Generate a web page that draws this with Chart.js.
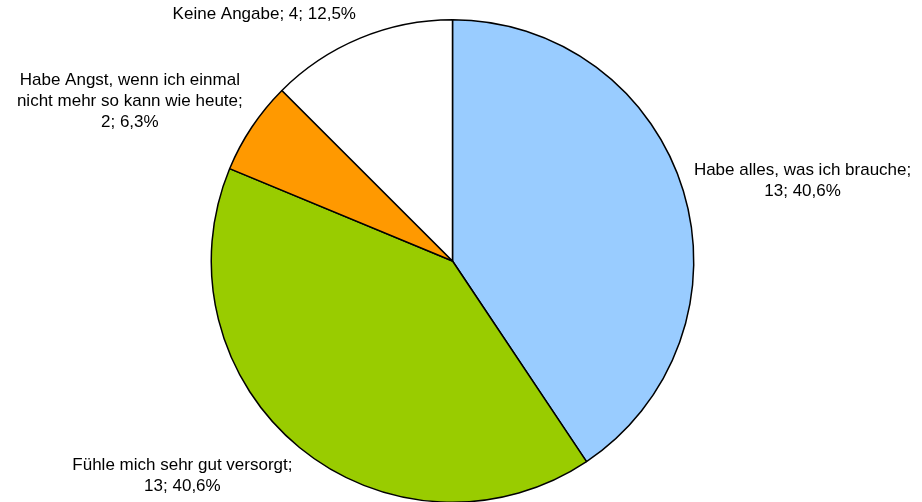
<!DOCTYPE html>
<html>
<head>
<meta charset="utf-8">
<script src="https://cdn.jsdelivr.net/npm/chart.js@4/dist/chart.umd.min.js"></script>
<style>
  html, body { margin: 0; padding: 0; background: #ffffff; overflow: hidden; }
  #wrap { width: 922px; height: 504px; }
</style>
</head>
<body>
<div id="wrap"><canvas id="c" width="922" height="504"></canvas></div>
<script>
const categories = [
  "Habe alles, was ich brauche;",
  "Fühle mich sehr gut versorgt;",
  "Habe Angst, wenn ich einmal nicht mehr so kann wie heute;",
  "Keine Angabe;"
];
const values = [13, 13, 2, 4];
const sliceColors = ["#99CCFF", "#99CC00", "#FF9900", "#FFFFFF"];

const FONT = '17px "Liberation Sans", Arial, sans-serif';
const LINE_H = 21;
const WRAP_W = 235;
const GAP = 11;

function wrapText(ctx, text, maxW) {
  const words = text.split(' ');
  const lines = [];
  let cur = '';
  for (const w of words) {
    const test = cur ? cur + ' ' + w : w;
    if (cur && ctx.measureText(test).width > maxW) {
      lines.push(cur);
      cur = w;
    } else {
      cur = test;
    }
  }
  if (cur) lines.push(cur);
  return lines;
}

const labelPlugin = {
  id: 'outsideLabels',
  afterDatasetsDraw(chart) {
    const ctx = chart.ctx;
    const meta = chart.getDatasetMeta(0);
    const total = values.reduce((a, b) => a + b, 0);
    ctx.save();
    ctx.font = FONT;
    ctx.fillStyle = '#000000';
    ctx.textBaseline = 'middle';
    ctx.textAlign = 'center';
    meta.data.forEach((arc, i) => {
      const p = arc.getProps(['x', 'y', 'startAngle', 'endAngle', 'outerRadius'], true);
      const mid = (p.startAngle + p.endAngle) / 2;
      const dx = Math.cos(mid), dy = Math.sin(mid);
      const ax = p.x + (p.outerRadius + GAP) * dx;
      const ay = p.y + (p.outerRadius + GAP) * dy;
      const pct = (values[i] / total * 100).toFixed(1).replace('.', ',');
      const text = categories[i] + ' ' + values[i] + '; ' + pct + '%';
      const lines = wrapText(ctx, text, WRAP_W);
      const bw = Math.max(...lines.map(l => ctx.measureText(l).width));
      const bh = lines.length * LINE_H;
      const left = dx >= 0 ? ax : ax - bw;
      const cx = left + bw / 2;
      const cy = ay + dy * (bh / 2 + 4);
      lines.forEach((l, k) => {
        ctx.fillText(l, cx, cy + (k - (lines.length - 1) / 2) * LINE_H);
      });
    });
    ctx.restore();
  }
};

new Chart(document.getElementById('c'), {
  type: 'pie',
  data: {
    labels: categories,
    datasets: [{
      data: values,
      backgroundColor: sliceColors,
      borderColor: '#000000',
      borderWidth: 1.5
    }]
  },
  options: {
    responsive: false,
    animation: false,
    layout: { padding: { top: 19, bottom: 1, left: 0, right: 17 } },
    plugins: {
      legend: { display: false },
      tooltip: { enabled: false }
    }
  },
  plugins: [labelPlugin]
});
</script>
</body>
</html>
